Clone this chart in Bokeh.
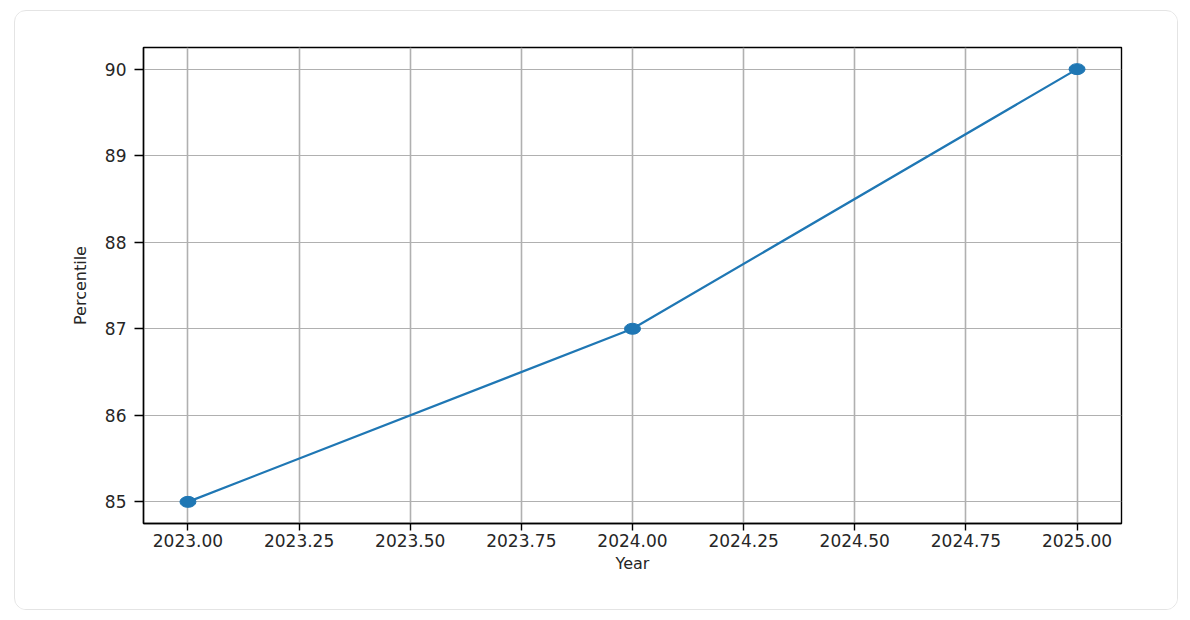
from bokeh.plotting import figure
from bokeh.models import Range1d, FixedTicker
from bokeh.embed import file_html
from bokeh.resources import INLINE

# ---- data ----
years = [2023, 2024, 2025]
percentile = [85, 87, 90]
x_tick_values = [2023.00, 2023.25, 2023.50, 2023.75, 2024.00, 2024.25, 2024.50, 2024.75, 2025.00]
x_tick_labels = ["2023.00", "2023.25", "2023.50", "2023.75", "2024.00", "2024.25", "2024.50", "2024.75", "2025.00"]
y_tick_values = [85, 86, 87, 88, 89, 90]
y_tick_labels = ["85", "86", "87", "88", "89", "90"]
x_label = "Year"
y_label = "Percentile"

BLUE = "#1f77b4"
FONT = "DejaVu Sans"

p = figure(
    width=1164, height=600,
    output_backend="svg", toolbar_location=None,
    x_range=Range1d(2022.9, 2025.1), y_range=Range1d(84.75, 90.25),
    min_border_left=128, min_border_right=58, min_border_top=36, min_border_bottom=88,
    background_fill_color="white", border_fill_color="white",
)
p.margin = (10, 0, 0, 14)
p.styles = {"border": "1px solid #e4e4e4", "border-radius": "12px", "overflow": "hidden"}

p.outline_line_color = "black"
p.outline_line_width = 1.4
p.outline_line_alpha = 1.0

# grid
p.xgrid.grid_line_color = "#b0b0b0"
p.xgrid.grid_line_width = 1.6
p.ygrid.grid_line_color = "#b0b0b0"
p.ygrid.grid_line_width = 1.1

# axes
p.xaxis.ticker = FixedTicker(ticks=x_tick_values)
p.xaxis.major_label_overrides = {v: l for v, l in zip(x_tick_values, x_tick_labels)}
p.yaxis.ticker = FixedTicker(ticks=y_tick_values)
p.yaxis.major_label_overrides = {v: l for v, l in zip(y_tick_values, y_tick_labels)}
p.xgrid.ticker = p.xaxis.ticker
p.ygrid.ticker = p.yaxis.ticker

for ax in (p.xaxis, p.yaxis):
    ax.axis_line_color = "black"
    ax.axis_line_width = 1.4
    ax.major_tick_line_color = "black"
    ax.major_tick_line_width = 1.4
    ax.major_tick_in = 0
    ax.minor_tick_line_color = None
    ax.major_label_text_font = FONT
    ax.major_label_text_font_size = "17px"
    ax.major_label_text_color = "#262626"
    ax.axis_label_text_font = FONT
    ax.axis_label_text_font_size = "16px"
    ax.axis_label_text_font_style = "normal"
    ax.axis_label_text_color = "#262626"

p.xaxis.major_tick_out = 7
p.yaxis.major_tick_out = 9
p.xaxis.major_label_standoff = 3
p.yaxis.major_label_standoff = 8
p.xaxis.axis_label = x_label
p.yaxis.axis_label = y_label
p.xaxis.axis_label_standoff = 4
p.yaxis.axis_label_standoff = 12

# data
p.line(years, percentile, line_color=BLUE, line_width=2.2)
p.ellipse(years, percentile, width=16, height=11, width_units="screen", height_units="screen",
          fill_color=BLUE, line_color=BLUE)

open("out.html", "w").write(file_html(p, INLINE))
